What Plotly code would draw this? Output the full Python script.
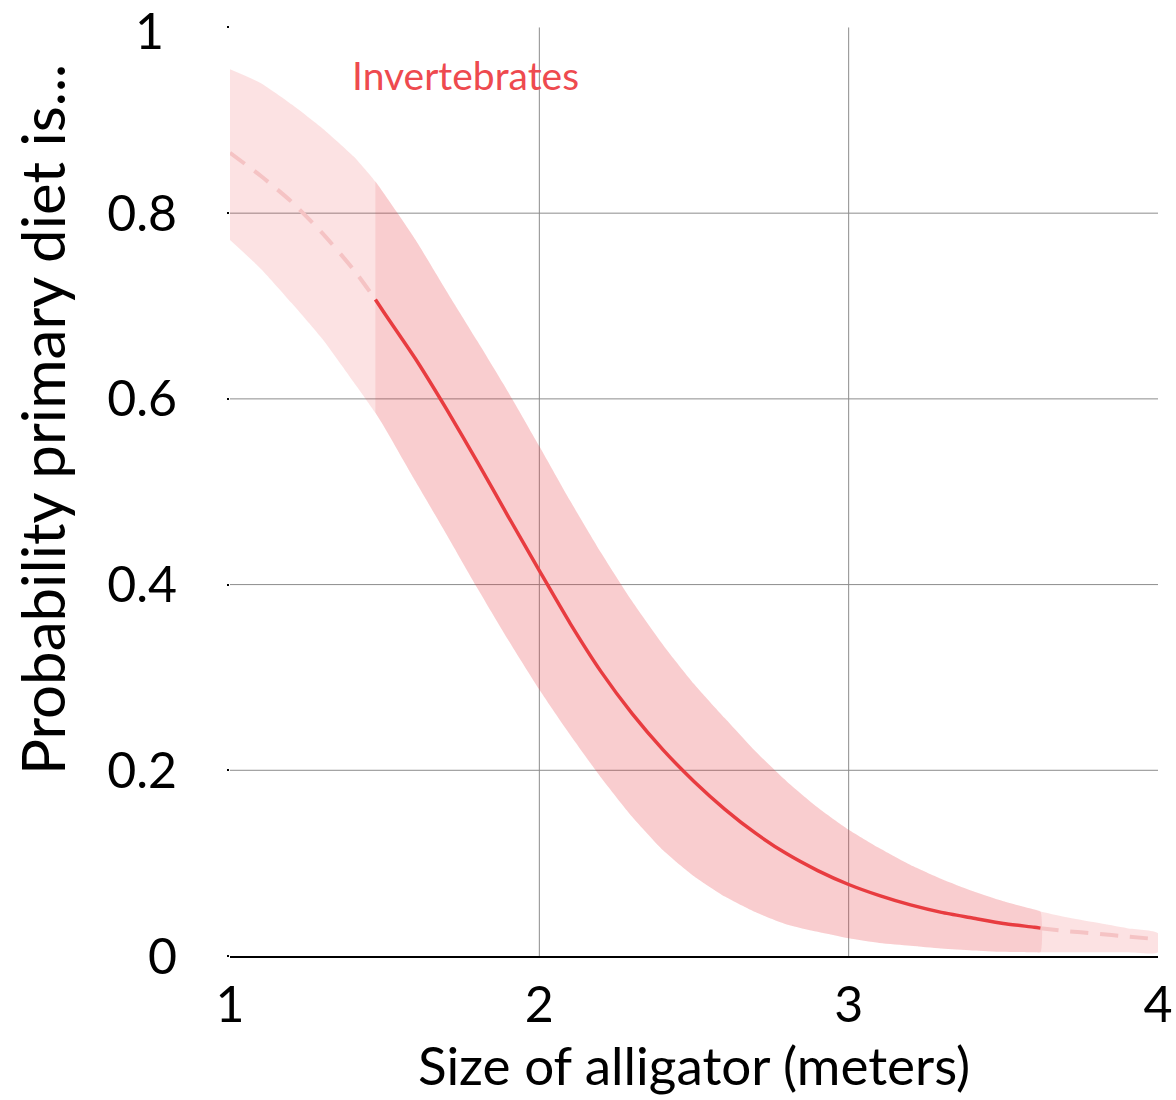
import plotly.graph_objects as go

# x grid (meters)
x_all = [1.0, 1.1, 1.2, 1.3, 1.4, 1.47, 1.5, 1.6, 1.7, 1.8, 1.9, 2.0, 2.1, 2.2, 2.3, 2.4,
         2.5, 2.6, 2.7, 2.8, 2.9, 3.0, 3.1, 3.2, 3.3, 3.4, 3.5, 3.6, 3.62, 3.7, 3.8, 3.9, 4.0]
mean = [0.865, 0.840, 0.812, 0.778, 0.739, 0.707, 0.692, 0.643, 0.589, 0.532, 0.473, 0.415,
        0.358, 0.306, 0.261, 0.222, 0.188, 0.158, 0.132, 0.110, 0.092, 0.077, 0.065, 0.055,
        0.047, 0.041, 0.035, 0.031, 0.030, 0.027, 0.024, 0.021, 0.018]
upper = [0.955, 0.940, 0.917, 0.891, 0.861, 0.834, 0.820, 0.771, 0.716, 0.662, 0.607, 0.549,
         0.490, 0.434, 0.382, 0.335, 0.293, 0.256, 0.220, 0.188, 0.160, 0.136, 0.116, 0.098,
         0.083, 0.070, 0.059, 0.050, 0.048, 0.042, 0.036, 0.030, 0.0245]
lower = [0.771, 0.740, 0.703, 0.664, 0.618, 0.585, 0.569, 0.511, 0.454, 0.396, 0.340, 0.287,
         0.238, 0.192, 0.150, 0.114, 0.086, 0.064, 0.047, 0.034, 0.026, 0.019, 0.014, 0.011,
         0.008, 0.006, 0.0045, 0.004, 0.004, 0.004, 0.004, 0.004, 0.004]
data_min, data_max = 1.47, 3.62   # observed range (solid part)
series_label = "Invertebrates"
x_ticks = [1, 2, 3, 4]
y_ticks = [0, 0.2, 0.4, 0.6, 0.8, 1]
y_ticktext = ["0", "0.2", "0.4", "0.6", "0.8", ""]
y_top_label = "1"

FONT = "Lato"
RED = "rgb(232,60,64)"
light_fill = "rgba(232,60,64,0.15)"
inner_fill = "rgba(232,60,64,0.12)"
dash_col = "rgb(245,195,196)"
SM = 0.6

i0 = x_all.index(data_min)
i1 = x_all.index(data_max)

fig = go.Figure()
# full band (light)
fig.add_trace(go.Scatter(x=x_all + x_all[::-1], y=upper + lower[::-1], fill="toself",
                         fillcolor=light_fill, line=dict(width=0, shape="spline", smoothing=SM),
                         mode="lines", hoverinfo="skip", showlegend=False))
# observed-range band (darker)
xs = x_all[i0:i1 + 1]
fig.add_trace(go.Scatter(x=xs + xs[::-1], y=upper[i0:i1 + 1] + lower[i0:i1 + 1][::-1],
                         fill="toself", fillcolor=inner_fill,
                         line=dict(width=0, shape="spline", smoothing=SM),
                         mode="lines", hoverinfo="skip", showlegend=False))
# dashed extrapolation
fig.add_trace(go.Scatter(x=x_all[:i0 + 1], y=mean[:i0 + 1], mode="lines",
                         line=dict(color=dash_col, width=4, dash="18px,12px",
                                   shape="spline", smoothing=SM), showlegend=False))
fig.add_trace(go.Scatter(x=x_all[i1:], y=mean[i1:], mode="lines",
                         line=dict(color=dash_col, width=4, dash="18px,12px",
                                   shape="spline", smoothing=SM), showlegend=False))
# solid fitted line
fig.add_trace(go.Scatter(x=xs, y=mean[i0:i1 + 1], mode="lines",
                         line=dict(color=RED, width=3.5, shape="spline", smoothing=SM),
                         showlegend=False))

shapes = []
for gx in [2, 3]:
    shapes.append(dict(type="line", xref="x", yref="y", x0=gx, x1=gx, y0=0, y1=1,
                       line=dict(color="rgb(140,140,140)", width=1), layer="below"))
for gy in [0.2, 0.4, 0.6, 0.8]:
    shapes.append(dict(type="line", xref="x", yref="y", x0=1, x1=4, y0=gy, y1=gy,
                       line=dict(color="rgb(140,140,140)", width=1), layer="below"))

fig.update_layout(
    width=1176, height=1100,
    margin=dict(l=230, r=18, t=27, b=144),
    paper_bgcolor="white", plot_bgcolor="white",
    font=dict(family=FONT, color="black", size=50),
    shapes=shapes,
    xaxis=dict(range=[1, 4], tickvals=x_ticks, ticktext=[str(v) for v in x_ticks],
               showgrid=False, zeroline=False, showline=True, linecolor="black", linewidth=2,
               ticks="", ticklabelstandoff=4, tickfont=dict(size=50),
               ticklabeloverflow="allow", automargin=False,
               title=dict(text="Size of alligator (meters)", font=dict(size=53), standoff=0)),
    yaxis=dict(range=[0, 1.0005], tickvals=y_ticks, ticktext=y_ticktext,
               showgrid=False, zeroline=False, showline=False,
               ticks="outside", ticklen=2, tickwidth=2, tickcolor="black",
               ticklabelstandoff=40, tickfont=dict(size=50), ticklabeloverflow="allow",
               automargin=False),
    annotations=[
        dict(text=y_top_label, xref="paper", yref="y", x=0, y=1, xanchor="right",
             yanchor="middle", xshift=-64, yshift=-3, showarrow=False,
             font=dict(size=50, color="black")),
        dict(text=series_label, x=1.388, y=0.9486, xref="x", yref="y", xanchor="left",
             yanchor="middle", showarrow=False, font=dict(size=39, color="rgb(238,74,79)")),
        dict(text="Probability primary diet is...", xref="paper", yref="paper",
             x=-0.2026, y=0.578, textangle=-90, showarrow=False, xanchor="center",
             yanchor="middle", font=dict(size=60, color="black")),
    ],
)

fig.write_html("out.html", post_script="document.body.style.margin='0';",
               config={"displayModeBar": False})
